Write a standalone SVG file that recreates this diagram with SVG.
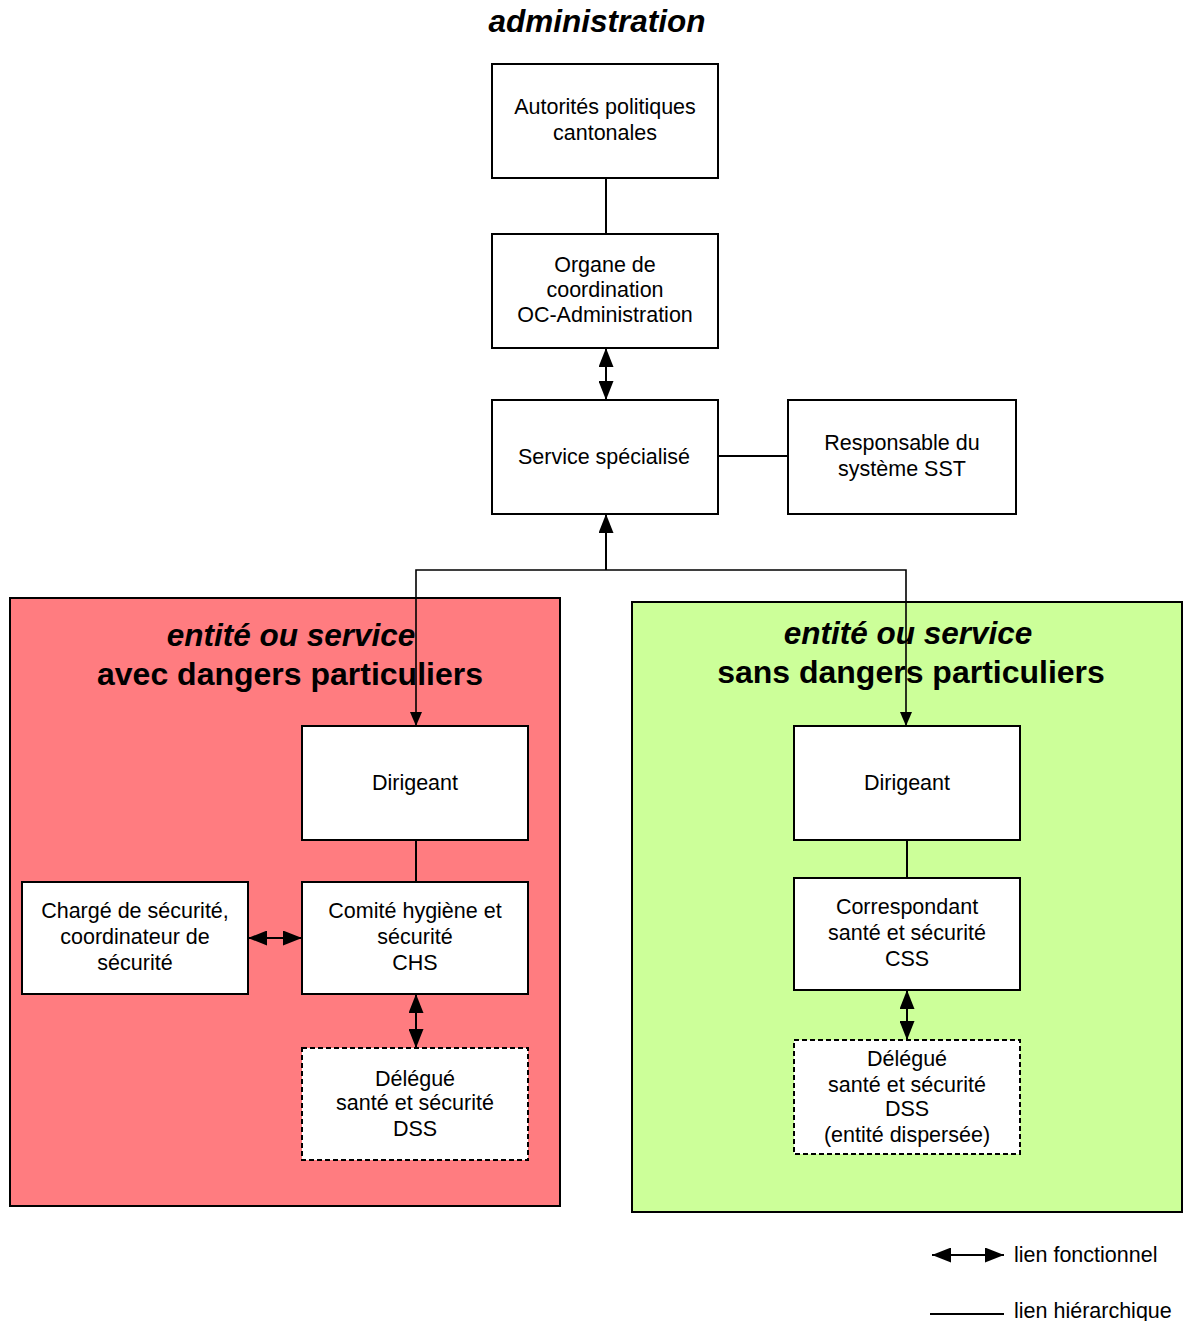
<svg xmlns="http://www.w3.org/2000/svg" width="1183" height="1321" viewBox="0 0 1183 1321">
<style>
text{font-family:"Liberation Sans",Arial,sans-serif;fill:#000}
.t{font-size:21.5px;text-anchor:middle}
.h{font-size:32px;font-weight:bold;text-anchor:middle}
.hi{font-size:31.5px;font-weight:bold;font-style:italic;text-anchor:middle}
.box{fill:#fff;stroke:#000;stroke-width:2}
.dash{fill:#fff;stroke:#000;stroke-width:2;stroke-dasharray:5,3}
.ln{fill:none;stroke:#000;stroke-width:2}
.fn{fill:none;stroke:#000;stroke-width:2;marker-start:url(#ah);marker-end:url(#ah)}
</style>
<defs>
<marker id="ah" markerUnits="userSpaceOnUse" markerWidth="19" markerHeight="15" refX="19" refY="7.5" orient="auto-start-reverse"><path d="M0,0 L19,7.5 L0,15 z" fill="#000"/></marker>
<marker id="sh" markerUnits="userSpaceOnUse" markerWidth="14" markerHeight="12" refX="14" refY="6" orient="auto"><path d="M0,0 L14,6 L0,12 z" fill="#000"/></marker>
</defs>
<text class="hi" x="597" y="32">administration</text>
<g id="zone-avec">
<rect x="10" y="598" width="550" height="608" fill="#FF7C80" stroke="#000" stroke-width="2"/>
<text class="hi" x="291" y="646">entité ou service</text>
<text class="h" x="290" y="685">avec dangers particuliers</text>
</g>
<g id="zone-sans">
<rect x="632" y="602" width="550" height="610" fill="#CCFF99" stroke="#000" stroke-width="2"/>
<text class="hi" x="908" y="644">entité ou service</text>
<text class="h" x="911" y="683">sans dangers particuliers</text>
</g>
<g id="connectors">
<line class="ln" x1="606" y1="178" x2="606" y2="234"/>
<line class="fn" x1="606" y1="348" x2="606" y2="400"/>
<line class="ln" x1="718" y1="456" x2="788" y2="456"/>
<line class="ln" x1="606" y1="570" x2="606" y2="514" style="marker-end:url(#ah)"/>
<polyline class="ln" points="416,726 416,570 906,570 906,726" style="stroke-width:1.6"/>
<line x1="416" y1="700" x2="416" y2="726" stroke="none" marker-end="url(#sh)"/>
<line x1="906" y1="700" x2="906" y2="726" stroke="none" marker-end="url(#sh)"/>
<line class="ln" x1="416" y1="840" x2="416" y2="882"/>
<line class="fn" x1="248" y1="938" x2="302" y2="938"/>
<line class="fn" x1="416" y1="994" x2="416" y2="1048"/>
<line class="ln" x1="907" y1="840" x2="907" y2="878"/>
<line class="fn" x1="907" y1="990" x2="907" y2="1040"/>
</g>
<g id="autorites">
<rect class="box" x="492" y="64" width="226" height="114"/>
<text class="t" x="605" y="114">Autorités politiques</text>
<text class="t" x="605" y="140">cantonales</text>
</g>
<g id="organe">
<rect class="box" x="492" y="234" width="226" height="114"/>
<text class="t" x="605" y="272">Organe de</text>
<text class="t" x="605" y="297">coordination</text>
<text class="t" x="605" y="322">OC-Administration</text>
</g>
<g id="service">
<rect class="box" x="492" y="400" width="226" height="114"/>
<text class="t" x="604" y="464">Service spécialisé</text>
</g>
<g id="responsable">
<rect class="box" x="788" y="400" width="228" height="114"/>
<text class="t" x="902" y="450">Responsable du</text>
<text class="t" x="902" y="476">système SST</text>
</g>
<g id="dirigeant-avec">
<rect class="box" x="302" y="726" width="226" height="114"/>
<text class="t" x="415" y="790">Dirigeant</text>
</g>
<g id="charge">
<rect class="box" x="22" y="882" width="226" height="112"/>
<text class="t" x="135" y="918">Chargé de sécurité,</text>
<text class="t" x="135" y="944">coordinateur de</text>
<text class="t" x="135" y="970">sécurité</text>
</g>
<g id="chs">
<rect class="box" x="302" y="882" width="226" height="112"/>
<text class="t" x="415" y="918">Comité hygiène et</text>
<text class="t" x="415" y="944">sécurité</text>
<text class="t" x="415" y="970">CHS</text>
</g>
<g id="dss-avec">
<rect class="dash" x="302" y="1048" width="226" height="112"/>
<text class="t" x="415" y="1086">Délégué</text>
<text class="t" x="415" y="1110">santé et sécurité</text>
<text class="t" x="415" y="1136">DSS</text>
</g>
<g id="dirigeant-sans">
<rect class="box" x="794" y="726" width="226" height="114"/>
<text class="t" x="907" y="790">Dirigeant</text>
</g>
<g id="css">
<rect class="box" x="794" y="878" width="226" height="112"/>
<text class="t" x="907" y="914">Correspondant</text>
<text class="t" x="907" y="940">santé et sécurité</text>
<text class="t" x="907" y="966">CSS</text>
</g>
<g id="dss-sans">
<rect class="dash" x="794" y="1040" width="226" height="114"/>
<text class="t" x="907" y="1066">Délégué</text>
<text class="t" x="907" y="1092">santé et sécurité</text>
<text class="t" x="907" y="1116">DSS</text>
<text class="t" x="907" y="1142">(entité dispersée)</text>
</g>
<g id="legende">
<line class="fn" x1="932" y1="1255" x2="1004" y2="1255"/>
<text x="1014" y="1262" font-size="21.5">lien fonctionnel</text>
<line class="ln" x1="930" y1="1314" x2="1004" y2="1314"/>
<text x="1014" y="1318" font-size="21.5">lien hiérarchique</text>
</g>
</svg>
